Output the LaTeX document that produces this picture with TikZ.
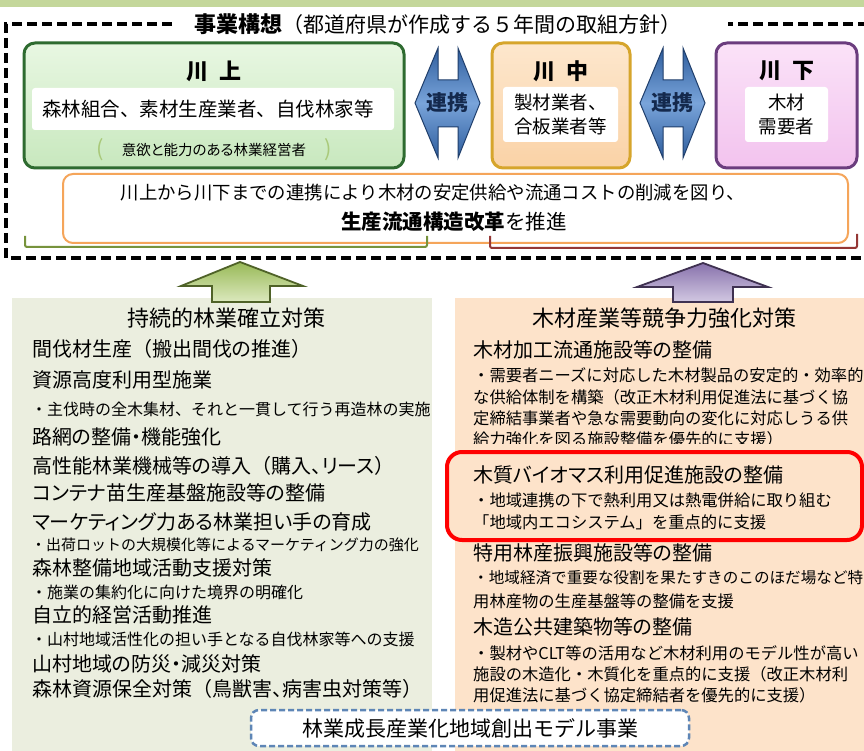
\documentclass[tikz,border=0pt]{standalone}
\usepackage{fontspec}
\setmainfont{Noto Sans CJK JP}
\newfontfamily\pf{Noto Sans CJK JP}[RawFeature=+palt]
\newcommand\myfs[1]{\fontsize{#1}{#1}\selectfont}
\newcommand\kl{{\rmfamily （}}
\newcommand\kr{{\rmfamily ）}}
\definecolor{stripT}{HTML}{C4D79B}
\definecolor{grTop}{HTML}{E8F7E2}
\definecolor{grBot}{HTML}{C8E8BE}
\definecolor{grLine}{HTML}{2E6B30}
\definecolor{orTop}{HTML}{FDE7CD}
\definecolor{orBot}{HTML}{FAD2A6}
\definecolor{orLine}{HTML}{D6A52C}
\definecolor{puTop}{HTML}{FBE2F8}
\definecolor{puBot}{HTML}{F2C3EE}
\definecolor{puLine}{HTML}{6B3D7E}
\definecolor{arTop}{HTML}{2F5E9E}
\definecolor{arMid}{HTML}{79A4DA}
\definecolor{arLine}{HTML}{1F3E6B}
\definecolor{arText}{HTML}{14294D}
\definecolor{tbLine}{HTML}{F5A55A}
\definecolor{brGreen}{HTML}{77933C}
\definecolor{brBrown}{HTML}{953735}
\definecolor{uaGTop}{HTML}{DCE9BE}
\definecolor{uaGBot}{HTML}{98B957}
\definecolor{uaGLine}{HTML}{4F6228}
\definecolor{uaPTop}{HTML}{D2C8E2}
\definecolor{uaPBot}{HTML}{8872AC}
\definecolor{uaPLine}{HTML}{3F3151}
\definecolor{lpanel}{HTML}{EBEEDF}
\definecolor{rpanel}{HTML}{FDE3CA}
\definecolor{parenG}{HTML}{A9C97A}
\definecolor{dashB}{HTML}{5E86B6}
\tikzset{
  txt/.style={anchor=west, inner sep=0pt, text=black},
  head/.style={txt, font=\pf\myfs{20}},
  bul/.style={txt, font=\myfs{16}},
  rbul/.style={txt, font=\myfs{16.3}},
  ptitle/.style={inner sep=0pt, font=\myfs{22}},
  rivtitle/.style={inner sep=0pt, font=\bfseries\myfs{22}},
  rivbox/.style={rounded corners=11pt, line width=3pt, minimum height=125pt},
  inner/.style={fill=white, draw=none, rounded corners=3pt},
  linkarrow/.style={draw=arLine, line width=1pt, top color=arTop, bottom color=arTop, middle color=arMid},
  linktext/.style={inner sep=0pt, font=\bfseries\myfs{21}, text=arText},
}
\begin{document}
\begin{tikzpicture}[x=1pt,y=-1pt]
\useasboundingbox (0,0) rectangle (864,751);
\clip (0,0) rectangle (864,751);
\fill[white] (0,0) rectangle (864,751);
% top strip
\fill[stripT] (0,0) rectangle (864,7);
% dashed frame
\draw[line width=3.5pt, dash pattern=on 10pt off 5pt] (172,24) -- (6,24) -- (6,258) -- (870,258) -- (870,24) -- (728,24);
\node[inner sep=0pt, anchor=west] (title) at (194,24) {\bfseries\myfs{22}事業構想\mdseries\myfs{21}（都道府県が作成する５年間の取組方針）};
% river boxes
\node[rivbox, draw=grLine, top color=grTop, bottom color=grBot, minimum width=380pt] (kawakami) at (214,105.5) {};
\node[rivbox, draw=orLine, top color=orTop, bottom color=orBot, minimum width=138pt] (kawanaka) at (561,105.5) {};
\node[rivbox, draw=puLine, top color=puTop, bottom color=puBot, minimum width=141pt] (kawashimo) at (786.5,105.5) {};
\node[inner, minimum width=362pt, minimum height=42pt] (kmband) at (213,109) {};
\node[inner, minimum width=115pt, minimum height=55pt] (knband) at (560.5,114.5) {};
\node[inner, minimum width=83pt, minimum height=55pt] (ksband) at (786.5,114.5) {};
\node[rivtitle] (kmt) at (214,71) {川\hspace{0.5em}上};
\node[rivtitle] (knt) at (561,71) {川\hspace{0.5em}中};
\node[rivtitle] (kst) at (786.5,71) {川\hspace{0.5em}下};
\node[inner sep=0pt, font=\myfs{19.5}] (kmtxt) at (208,109) {森林組合、素材生産業者、自伐林家等};
\node[inner sep=0pt, font=\myfs{18.5}, align=center] (kntxt) at (560.5,114.5) {製材業者、\\[6pt]合板業者等};
\node[inner sep=0pt, font=\myfs{18.5}, align=center] (kstxt) at (786.5,114.5) {木材\\[6pt]需要者};
\node[inner sep=0pt, font=\myfs{22}, text=parenG] (pl) at (100,150) {(};
\node[inner sep=0pt, font=\myfs{22}, text=parenG] (pr) at (328,150) {)};
\node[inner sep=0pt, font=\pf\myfs{14.5}] (kmsub) at (214,150) {意欲と能力のある林業経営者};
% link arrows
\path[linkarrow] (415,103) -- (438,48) -- (438,80) -- (458,80) -- (458,48) -- (480,103) -- (458,158) -- (458,127) -- (438,127) -- (438,158) -- cycle;
\node[linktext] (link1) at (447.5,103) {連携};
\path[linkarrow] (640,103) -- (663,48) -- (663,80) -- (683,80) -- (683,48) -- (705,103) -- (683,158) -- (683,127) -- (663,127) -- (663,158) -- cycle;
\node[linktext] (link2) at (672.5,103) {連携};
% summary box
\node[draw=tbLine, line width=2pt, fill=white, rounded corners=10pt, minimum width=785pt, minimum height=69pt] (summary) at (455.5,208.5) {};
\node[inner sep=0pt, font=\myfs{18.4}] (sum1) at (433,193) {川上から川下までの連携により木材の安定供給や流通コストの削減を図り、};
\node[inner sep=0pt, font=\myfs{20.5}] (sum2) at (454,222) {\bfseries 生産流通構造改革\mdseries を推進};
% brackets
\draw[brGreen, line width=2pt, rounded corners=2pt] (25,236) -- (25,247) -- (427,247) -- (427,236);
\draw[brBrown, line width=2pt, rounded corners=2pt] (490,236) -- (490,248) -- (857,248) -- (857,234);
% panels
\fill[lpanel] (12,298) rectangle (432,751);
\fill[rpanel] (455,298) rectangle (864,751);
% up arrows
\path[draw=uaGLine, line width=1.8pt, top color=uaGBot, bottom color=uaGTop, line join=miter] (240,262) -- (303,286) -- (270,286) -- (270,302) -- (212,302) -- (212,286) -- (181,286) -- cycle;
\path[draw=uaPLine, line width=1.8pt, top color=uaPBot, bottom color=uaPTop, line join=miter] (703,263) -- (768,287) -- (733,287) -- (733,302) -- (673,302) -- (673,287) -- (637,287) -- cycle;
% left panel text
\node[ptitle] (ltitle) at (226,318) {持続的林業確立対策};
\node[head] (l1) at (32,349) {間伐材生産\kl 搬出間伐の推進\kr};
\node[head] (l2) at (32,380) {資源高度利用型施業};
\node[bul] (l3) at (31,409) {・主伐時の全木集材、それと一貫して行う再造林の実施};
\node[head] (l4) at (32,437) {路網の整備・機能強化};
\node[head] (l5) at (32,466) {高性能林業機械等の導入\kl 購入、リース\kr};
\node[head] (l6) at (32,493) {コンテナ苗生産基盤施設等の整備};
\node[head] (l7) at (32,522) {マーケティング力ある林業担い手の育成};
\node[bul, font=\myfs{15}] (l8) at (31,545) {・出荷ロットの大規模化等によるマーケティング力の強化};
\node[head] (l9) at (32,568) {森林整備地域活動支援対策};
\node[bul] (l10) at (31,592) {・施業の集約化に向けた境界の明確化};
\node[head] (l11) at (32,615) {自立的経営活動推進};
\node[bul] (l12) at (31,639) {・山村地域活性化の担い手となる自伐林家等への支援};
\node[head] (l13) at (32,664) {山村地域の防災・減災対策};
\node[head] (l14) at (32,689) {森林資源保全対策\kl 鳥獣害、病害虫対策等\kr};
% right panel text
\node[ptitle] (rtitle) at (664,318) {木材産業等競争力強化対策};
\node[head] (r1) at (473,350) {木材加工流通施設等の整備};
\node[rbul] (r2) at (473,375) {・需要者ニーズに対応した木材製品の安定的・効率的};
\node[rbul] (r3) at (473,397) {な供給体制を構築（改正木材利用促進法に基づく協};
\node[rbul] (r4) at (473,418) {定締結事業者や急な需要動向の変化に対応しうる供};
\begin{scope}
\clip (455,420) rectangle (864,443);
\node[rbul] (r5) at (473,439) {給力強化を図る施設整備を優先的に支援）};
\end{scope}
\draw[red, line width=4pt, fill=rpanel, rounded corners=15pt] (447,452) rectangle (862,540);
\node[head] (r6) at (473,475) {木質バイオマス利用促進施設の整備};
\node[rbul] (r7) at (473,500) {・地域連携の下で熱利用又は熱電併給に取り組む};
\node[rbul] (r8) at (473,522) {「地域内エコシステム」を重点的に支援};
\node[head] (r9) at (473,553) {特用林産振興施設等の整備};
\node[rbul, font=\myfs{15.6}] (r10) at (473,578) {・地域経済で重要な役割を果たすきのこのほだ場など特};
\node[rbul] (r11) at (473,601) {用林産物の生産基盤等の整備を支援};
\node[head] (r12) at (473,627) {木造公共建築物等の整備};
\node[rbul] (r13) at (473,653) {・製材やCLT等の活用など木材利用のモデル性が高い};
\node[rbul] (r14) at (473,674) {施設の木造化・木質化を重点的に支援（改正木材利};
\node[rbul] (r15) at (473,695) {用促進法に基づく協定締結者を優先的に支援）};
% bottom dashed box
\node[draw=dashB, line width=2.5pt, dash pattern=on 6pt off 3pt, fill=white, rounded corners=8pt, minimum width=438pt, minimum height=36pt, inner sep=0pt, font=\myfs{21}] (model) at (470,728) {林業成長産業化地域創出モデル事業};
\end{tikzpicture}
\end{document}
